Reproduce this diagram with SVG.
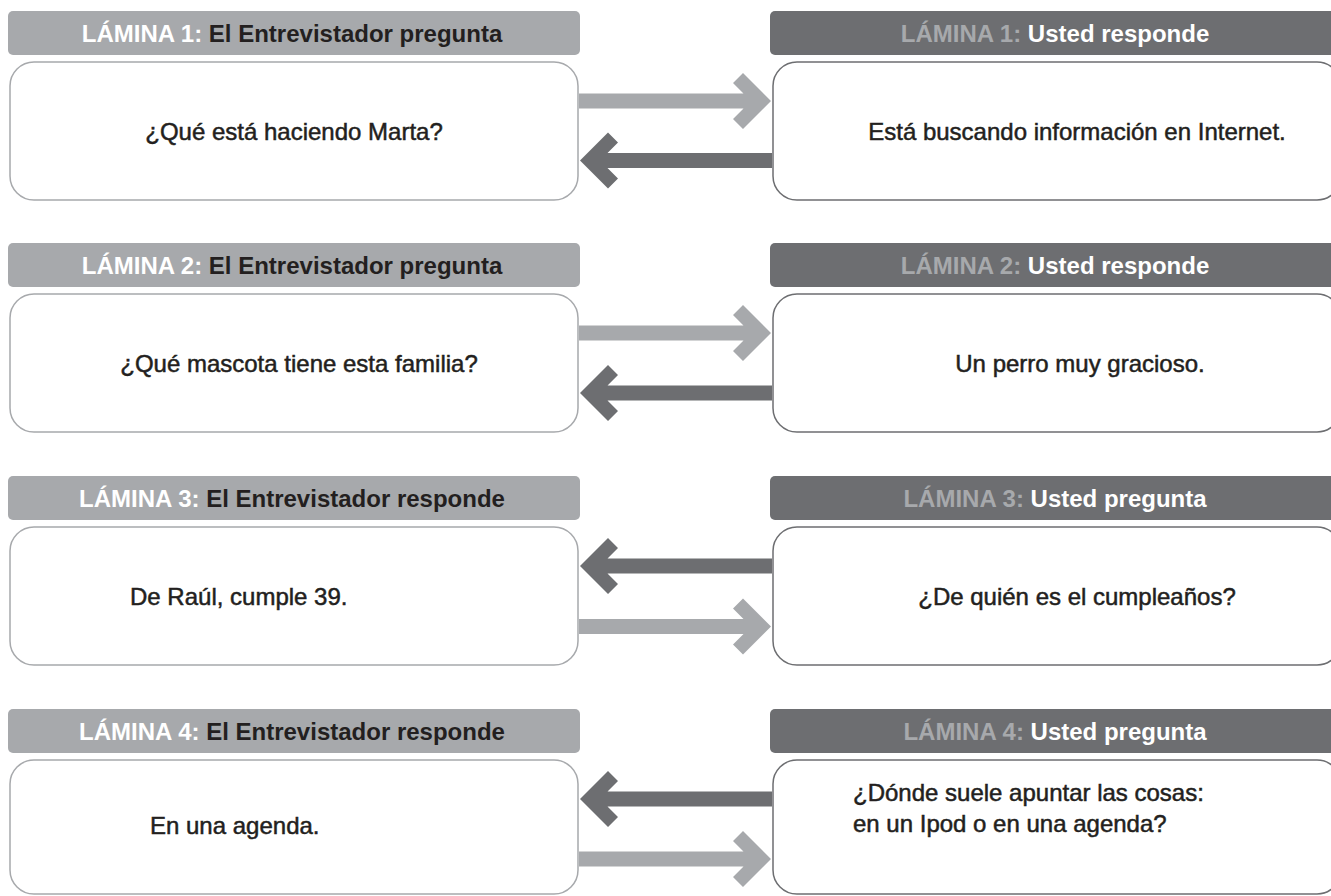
<svg xmlns="http://www.w3.org/2000/svg" width="1331" height="896" viewBox="0 0 1331 896">
<style>
.hl{fill:#a7a9ac}
.hd{fill:#6d6e71}
.bl{fill:#fff;stroke:#a7a9ac;stroke-width:1.5}
.bd{fill:#fff;stroke:#6d6e71;stroke-width:1.5}
.ht{font-family:"Liberation Sans",Arial,sans-serif;font-weight:bold;font-size:24px;text-anchor:middle}
.bt{font-family:"Liberation Sans",Arial,sans-serif;font-size:24px;fill:#231f20;stroke:#231f20;stroke-width:0.5}
.w{fill:#fff}
.k{fill:#231f20}
.g{fill:#a7a9ac}
.al{fill:#a7a9ac}
.ad{fill:#6d6e71}
</style>
<defs>
<polygon id="arr" points="0,0 -28,-28 -38,-18 -27.5,-7.5 -192,-7.5 -192,7.5 -27.5,7.5 -38,18 -28,28"/>
</defs>

<g id="connectors">
<use href="#arr" class="al" transform="translate(771,101)"/>
<use href="#arr" class="ad" transform="translate(580,160.5) scale(-1,1)"/>
<use href="#arr" class="al" transform="translate(771,333)"/>
<use href="#arr" class="ad" transform="translate(580,393) scale(-1,1)"/>
<use href="#arr" class="ad" transform="translate(580,566) scale(-1,1)"/>
<use href="#arr" class="al" transform="translate(771,626.5)"/>
<use href="#arr" class="ad" transform="translate(580,799) scale(-1,1)"/>
<use href="#arr" class="al" transform="translate(771,859)"/>
</g>

<g id="l1-q">
<rect class="hl" x="8" y="11" width="572" height="44" rx="5"/>
<text class="ht" x="292" y="41.5"><tspan class="w">LÁMINA 1: </tspan><tspan class="k">El Entrevistador pregunta</tspan></text>
<rect class="bl" x="10" y="62" width="568" height="138" rx="24"/>
<text class="bt" x="294" y="140" text-anchor="middle">¿Qué está haciendo Marta?</text>
</g>
<g id="l1-a">
<rect class="hd" x="770" y="11" width="580" height="44" rx="5"/>
<text class="ht" x="1055" y="41.5"><tspan class="g">LÁMINA 1: </tspan><tspan class="w">Usted responde</tspan></text>
<rect class="bd" x="773" y="62" width="568" height="138" rx="24"/>
<text class="bt" x="1077" y="140" text-anchor="middle">Está buscando información en Internet.</text>
</g>

<g id="l2-q">
<rect class="hl" x="8" y="243" width="572" height="44" rx="5"/>
<text class="ht" x="292" y="273.5"><tspan class="w">LÁMINA 2: </tspan><tspan class="k">El Entrevistador pregunta</tspan></text>
<rect class="bl" x="10" y="294" width="568" height="138" rx="24"/>
<text class="bt" x="299" y="372" text-anchor="middle">¿Qué mascota tiene esta familia?</text>
</g>
<g id="l2-a">
<rect class="hd" x="770" y="243" width="580" height="44" rx="5"/>
<text class="ht" x="1055" y="273.5"><tspan class="g">LÁMINA 2: </tspan><tspan class="w">Usted responde</tspan></text>
<rect class="bd" x="773" y="294" width="568" height="138" rx="24"/>
<text class="bt" x="1080" y="372" text-anchor="middle">Un perro muy gracioso.</text>
</g>

<g id="l3-r">
<rect class="hl" x="8" y="476" width="572" height="44" rx="5"/>
<text class="ht" x="292" y="506.5"><tspan class="w">LÁMINA 3: </tspan><tspan class="k">El Entrevistador responde</tspan></text>
<rect class="bl" x="10" y="527" width="568" height="138" rx="24"/>
<text class="bt" x="130" y="605">De Raúl, cumple 39.</text>
</g>
<g id="l3-p">
<rect class="hd" x="770" y="476" width="580" height="44" rx="5"/>
<text class="ht" x="1055" y="506.5"><tspan class="g">LÁMINA 3: </tspan><tspan class="w">Usted pregunta</tspan></text>
<rect class="bd" x="773" y="527" width="568" height="138" rx="24"/>
<text class="bt" x="1077" y="605" text-anchor="middle">¿De quién es el cumpleaños?</text>
</g>

<g id="l4-r">
<rect class="hl" x="8" y="709" width="572" height="44" rx="5"/>
<text class="ht" x="292" y="739.5"><tspan class="w">LÁMINA 4: </tspan><tspan class="k">El Entrevistador responde</tspan></text>
<rect class="bl" x="10" y="760" width="568" height="134" rx="24"/>
<text class="bt" x="150" y="834">En una agenda.</text>
</g>
<g id="l4-p">
<rect class="hd" x="770" y="709" width="580" height="44" rx="5"/>
<text class="ht" x="1055" y="739.5"><tspan class="g">LÁMINA 4: </tspan><tspan class="w">Usted pregunta</tspan></text>
<rect class="bd" x="773" y="760" width="568" height="134" rx="24"/>
<text class="bt" x="853" y="801">¿Dónde suele apuntar las cosas:</text>
<text class="bt" x="853" y="832">en un Ipod o en una agenda?</text>
</g>
</svg>
